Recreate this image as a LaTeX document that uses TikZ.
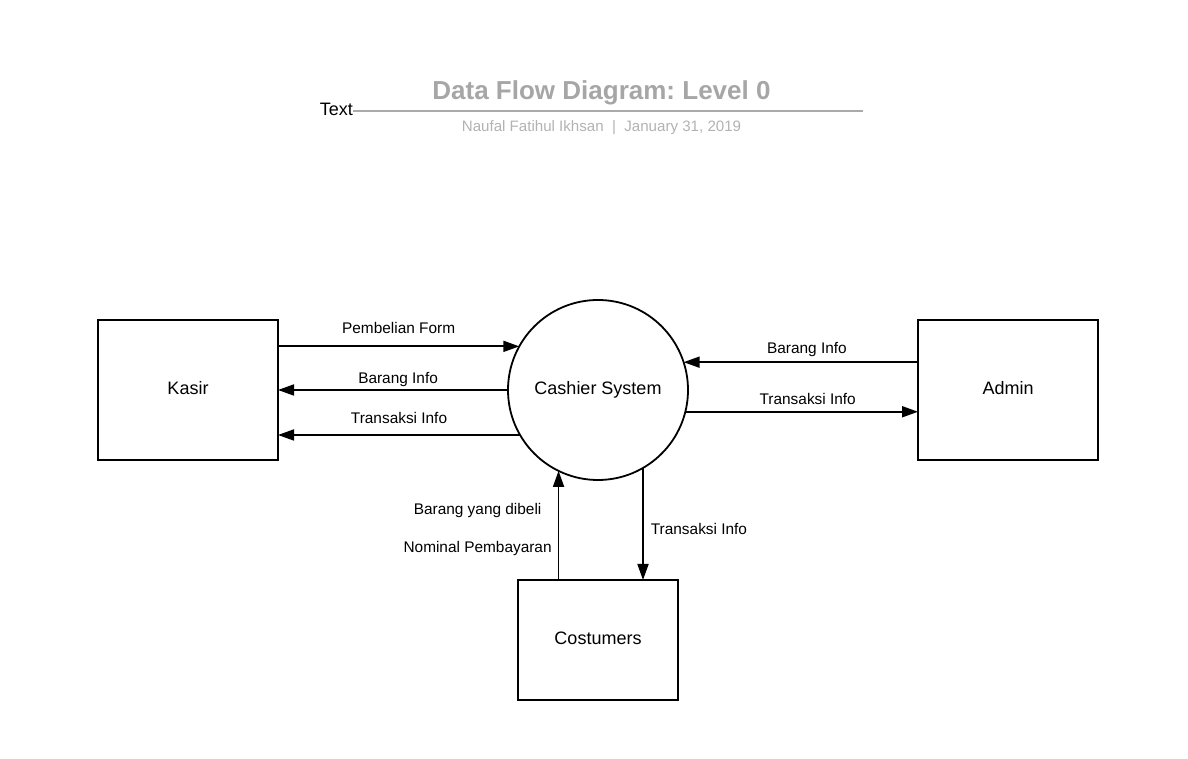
\documentclass[tikz,border=0pt]{standalone}
\usepackage{fontspec}
\setmainfont{Liberation Sans}
\usepackage{xcolor}
\definecolor{colorTitle}{RGB}{166,166,166}
\definecolor{colorSubtitle}{RGB}{178,178,178}
\definecolor{colorRule}{RGB}{170,170,170}
\usetikzlibrary{arrows.meta, positioning}
\tikzset{
  entity/.style={draw, line width=1.8pt, outer sep=0pt, minimum width=180pt, minimum height=140pt, inner sep=0pt, text height=13pt, text depth=4pt, font=\fontsize{18}{20}\selectfont},
  process/.style={draw, circle, line width=1.8pt, outer sep=0pt, minimum size=180pt, inner sep=0pt, font=\fontsize{18}{20}\selectfont},
  flow/.style={->, line width=1.8pt},
  flowlabel/.style={inner sep=0pt, text height=11pt, text depth=3pt, font=\fontsize{15.4}{17}\selectfont}
}

\begin{document}
\begin{tikzpicture}[x=1pt, y=1pt, >={Triangle[length=16pt, width=11pt]}]
\useasboundingbox (0,0) rectangle (1188,759);
% title block
\node[anchor=base, inner sep=0pt, text=colorTitle, font=\fontsize{26}{30}\selectfont\bfseries] (title) at (601.5,659) {Data Flow Diagram:\ Level 0};
\node[anchor=base, inner sep=0pt, text=colorSubtitle, font=\fontsize{15.1}{17}\selectfont] (subtitle) at (601.5,627) {Naufal Fatihul Ikhsan\ \ |\ \ January 31, 2019};
\node[anchor=base east, inner sep=0pt, font=\fontsize{18}{20}\selectfont] (textlbl) at (353,643) {Text};
\coordinate (ruleend) at (863,648);
\draw[colorRule, line width=2pt] (textlbl.east |- ruleend) -- (ruleend);
% entities and process
\node[entity] (kasir) at (188,369) {Kasir};
\node[process, right=230pt of kasir] (sys) {Cashier System};
\node[entity, right=230pt of sys] (admin) {Admin};
\node[entity, minimum width=160pt, minimum height=120pt, below=100pt of sys] (cost) {Costumers};
% flows
\draw[flow] (kasir.east |- sys.151.5) -- (sys.151.5) node[flowlabel, midway, above=9pt] {Pembelian Form};
\draw[flow] (sys.west) -- (kasir.east) node[flowlabel, pos=0.478, above=3pt] {Barang Info};
\draw[flow] (sys.210) -- (kasir.east |- sys.210) node[flowlabel, midway, above=8pt] {Transaksi Info};
\draw[flow] (admin.west |- sys.18.8) -- (sys.18.8) node[flowlabel, pos=0.474, above=5pt] {Barang Info};
\draw[flow] (sys.-14.8) -- (admin.west |- sys.-14.8) node[flowlabel, pos=0.526, above=3pt] {Transaksi Info};
\draw[flow] (cost.north -| sys.-116.4) -- (sys.-116.4) node[flowlabel, pos=0.29, left=6pt] (nominal) {Nominal Pembayaran};
\node[flowlabel, above=23pt of nominal] (dibeli) {Barang yang dibeli};
\draw[flow] (sys.-60) -- (sys.-60 |- cost.north) node[flowlabel, pos=0.562, right=7pt] {Transaksi Info};
\end{tikzpicture}
\end{document}
